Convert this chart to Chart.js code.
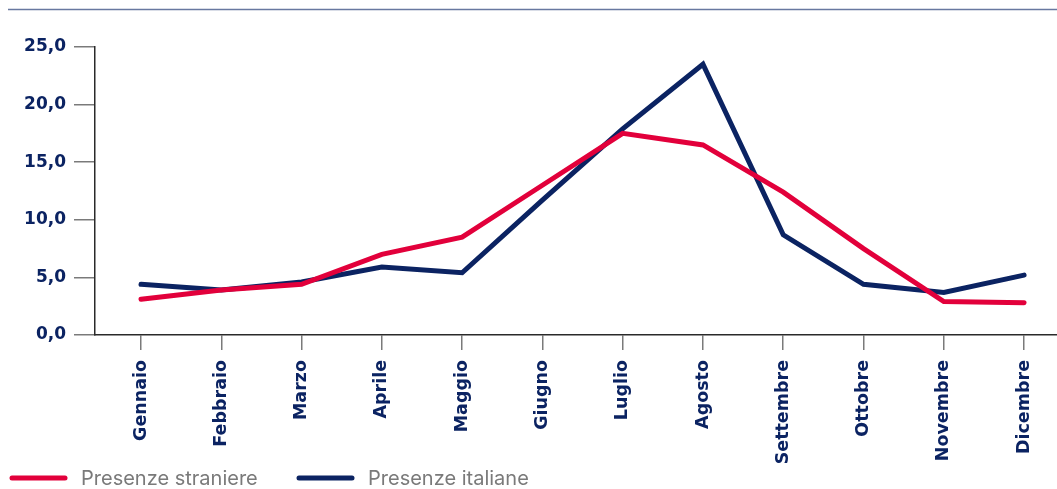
<!DOCTYPE html>
<html>
<head>
<meta charset="utf-8">
<script src="https://cdn.jsdelivr.net/npm/chart.js@4"></script>
<style>
  html, body { margin: 0; padding: 0; background: #fff; }
  #wrap { width: 1057px; height: 489px; }
</style>
</head>
<body>
<div id="wrap"><canvas id="chart"></canvas></div>
<script>
// months on the x axis
const months = ['Gennaio', 'Febbraio', 'Marzo', 'Aprile', 'Maggio', 'Giugno',
  'Luglio', 'Agosto', 'Settembre', 'Ottobre', 'Novembre', 'Dicembre'];

// values
const presenzeStraniere = [3.1, 3.9, 4.4, 7.0, 8.5, 13.0, 17.5, 16.5, 12.4, 7.5, 2.9, 2.8];
const presenzeItaliane  = [4.4, 3.9, 4.6, 5.9, 5.4, 11.7, 17.9, 23.5, 8.7, 4.4, 3.7, 5.2];

const yTicks = [0, 5, 10, 15, 20, 25];

const RED = '#e2003b';
const NAVY = '#0b2362';

// thin rule on top + legend at the bottom
const decor = {
  id: 'decor',
  afterDraw(chart) {
    const ctx = chart.ctx;
    ctx.save();
    ctx.strokeStyle = '#6878a0';
    ctx.lineWidth = 1.5;
    ctx.beginPath();
    ctx.moveTo(8, 9.5);
    ctx.lineTo(chart.width, 9.5);
    ctx.stroke();

    const starts = [10, 297];
    chart.data.datasets.forEach((ds, i) => {
      const x = starts[i], y = 478;
      ctx.strokeStyle = ds.borderColor;
      ctx.lineWidth = 5;
      ctx.lineCap = 'round';
      ctx.beginPath();
      ctx.moveTo(x + 2, y);
      ctx.lineTo(x + 55, y);
      ctx.stroke();
      ctx.fillStyle = '#7a7a7a';
      ctx.font = '400 20px Inter';
      ctx.textBaseline = 'middle';
      ctx.fillText(ds.label, x + 71, y + 1);
    });
    ctx.restore();
  }
};

new Chart(document.getElementById('chart'), {
  type: 'line',
  data: {
    datasets: [
      {
        label: 'Presenze straniere',
        data: presenzeStraniere.map((v, i) => ({ x: i, y: v })),
        borderColor: RED,
        backgroundColor: RED,
        borderWidth: 5,
        borderCapStyle: 'round',
        pointRadius: 0,
        tension: 0
      },
      {
        label: 'Presenze italiane',
        data: presenzeItaliane.map((v, i) => ({ x: i, y: v })),
        borderColor: NAVY,
        backgroundColor: NAVY,
        borderWidth: 5,
        borderCapStyle: 'round',
        pointRadius: 0,
        tension: 0
      }
    ]
  },
  options: {
    responsive: true,
    maintainAspectRatio: false,
    animation: false,
    layout: { padding: { top: 47, right: 0, bottom: 22, left: 0 } },
    plugins: {
      legend: { display: false },
      tooltip: { enabled: false }
    },
    scales: {
      x: {
        type: 'linear',
        min: -0.573,
        max: 11.41,
        afterBuildTicks: (scale) => { scale.ticks = months.map((_, i) => ({ value: i })); },
        afterFit: (scale) => { scale.height = 132; },
        border: { display: true, color: '#2a2a2a', width: 1.5 },
        grid: { drawOnChartArea: false, drawTicks: true, tickLength: 15, color: '#7a7a7a', lineWidth: 1.5 },
        ticks: {
          autoSkip: false,
          maxRotation: 90,
          minRotation: 90,
          padding: 10,
          color: NAVY,
          font: { family: 'DejaVu Sans', size: 17.5, weight: 'bold' },
          callback: (v) => months[v]
        }
      },
      y: {
        min: 0,
        max: 25,
        afterBuildTicks: (scale) => { scale.ticks = yTicks.map(v => ({ value: v })); },
        afterFit: (scale) => { scale.width = 95; },
        border: { display: true, color: '#2a2a2a', width: 1.5 },
        grid: { drawOnChartArea: false, drawTicks: true, tickLength: 21, color: '#7a7a7a', lineWidth: 1.5 },
        ticks: {
          padding: 8,
          color: NAVY,
          font: { family: 'DejaVu Sans', size: 17, weight: 'bold' },
          callback: (v) => v.toFixed(1).replace('.', ',')
        }
      }
    }
  },
  plugins: [decor]
});
</script>
</body>
</html>
